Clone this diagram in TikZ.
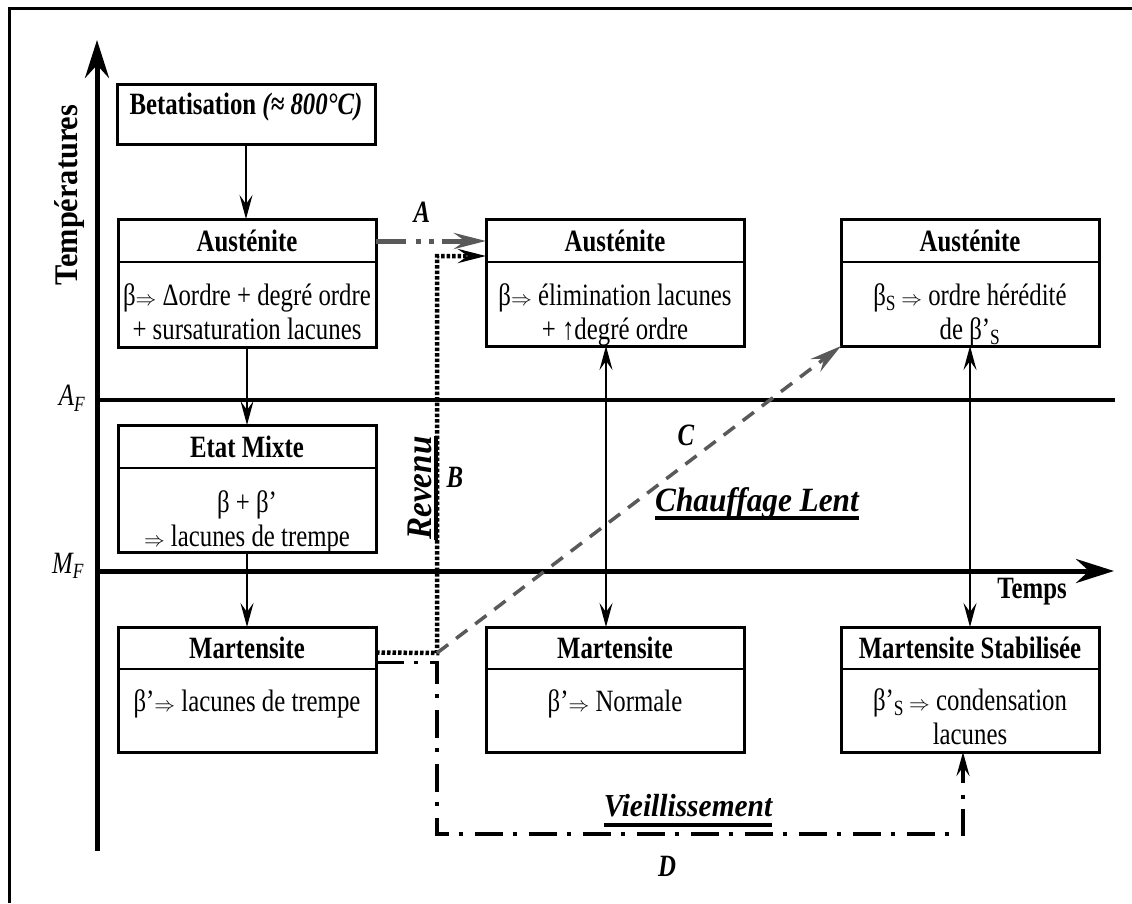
\documentclass[tikz,border=0pt]{standalone}
\usepackage{fontspec}
\setmainfont{Liberation Serif}[FakeStretch=0.8]
\newfontfamily\largefont{Liberation Serif}[FakeStretch=0.92]
\usetikzlibrary{arrows.meta}

\newcommand{\impl}{{\fontsize{22}{22}\selectfont$\Rightarrow$}}

\begin{document}
\begin{tikzpicture}[x=1pt,y=-1pt,
  every node/.style={font=\fontsize{31}{34}\selectfont},
  etat/.style={draw,line width=3pt,minimum width=258pt,inner sep=0pt,outer sep=0pt},
  titre/.style={font=\fontsize{31}{34}\selectfont\bfseries},
  corps/.style={align=center,anchor=north,inner sep=0pt},
  trait/.style={line width=1.2pt},
  fleche/.style={line width=1.5pt,-{Stealth[length=24pt,width=13pt,inset=9pt]}},
  double fleche/.style={line width=1.5pt,{Stealth[length=24pt,width=13pt,inset=9pt]}-{Stealth[length=24pt,width=13pt,inset=9pt]}},
  axe/.style={line width=5pt,-{Stealth[length=38pt,width=24pt,inset=13pt]}},
  palier/.style={line width=4pt},
  lettre/.style={font=\fontsize{31}{34}\selectfont\bfseries\itshape},
  legende/.style={font=\largefont\fontsize{34}{36}\selectfont\bfseries\itshape,inner xsep=0pt},
  souligne/.style={line width=4pt},
  chemin A/.style={line width=5pt,black!65,dash pattern=on 30pt off 10pt on 5pt off 8pt on 5pt off 8pt,
    -{Stealth[length=32pt,width=16pt,inset=11pt]}},
  chemin B/.style={line width=4.5pt,dash pattern=on 3.5pt off 2pt,-{Stealth[length=28pt,width=14pt,inset=10pt]}},
  chemin C/.style={line width=3.5pt,black!65,dash pattern=on 14pt off 10pt,-{Stealth[length=32pt,width=16pt,inset=11pt]}},
  chemin D/.style={line width=3.5pt,dash pattern=on 28pt off 10pt on 4pt off 12pt,-{Stealth[length=24pt,width=13pt,inset=9pt]}}]
  \useasboundingbox (0,0) rectangle (1132,903);
  %cadre
  \draw[line width=3pt] (9,903) -- (9,8) -- (1132,8);

  %axes
  \coordinate (O) at (97,851);
  \coordinate (Thaut) at (97,40);
  \coordinate (AFg) at (97,400);
  \coordinate (AFd) at (1115,400);
  \coordinate (MFg) at (97,571);
  \coordinate (MFd) at (1114,571);
  \draw[axe] (O) -- (Thaut);
  \draw[palier] (AFg) -- (AFd);
  \draw[axe] (MFg) -- (MFd);
  \node[font=\largefont\fontsize{33}{36}\selectfont\bfseries,rotate=90] (temp) at (70,195) {Températures};
  \node (af) at (72,398) {\itshape A\textsubscript{F}};
  \node (mf) at (68,566) {\itshape M\textsubscript{F}};
  \node[titre] (temps) at (1032,592) {Temps};

  %colonne gauche
  \node[etat,minimum height=60pt] (beta) at (246,114) {};
  \node[titre] (betat) at ([yshift=7pt]beta.center) {Betatisation {\itshape(≈ 800°C)}};
  \node[etat,minimum height=128pt] (aus1) at (247,283) {};
  \node[titre] (aus1t) at ([yshift=-22pt]aus1.north) {Austénite};
  \draw[trait] ([yshift=-43pt]aus1.north west) -- ([yshift=-43pt]aus1.north east);
  \node[corps] (aus1c) at ([yshift=-64pt]aus1.north) {β\impl\ Δordre + degré ordre\\ + sursaturation lacunes};
  \node[etat,minimum height=127pt] (mix) at (247,488.5) {};
  \node[titre] (mixt) at ([yshift=-22pt]mix.north) {Etat Mixte};
  \draw[trait] ([yshift=-43pt]mix.north west) -- ([yshift=-43pt]mix.north east);
  \node[corps] (mixc) at ([yshift=-65pt]mix.north) {β + β’\\\impl\ lacunes de trempe};
  \node[etat,minimum height=125pt] (mar1) at (247,689.5) {};
  \node[titre] (mar1t) at ([yshift=-21pt]mar1.north) {Martensite};
  \draw[trait] ([yshift=-42pt]mar1.north west) -- ([yshift=-42pt]mar1.north east);
  \node[corps] (mar1c) at ([yshift=-62pt]mar1.north) {β’\impl\ lacunes de trempe};
  \draw[fleche] (beta.south) -- (beta.south |- aus1.north);
  \draw[fleche] (aus1.south) -- (aus1.south |- mix.north);
  \draw[fleche] (mix.south) -- (mix.south |- mar1.north);

  %colonne milieu
  \node[etat,minimum height=127pt] (aus2) at (615,282.5) {};
  \node[titre] (aus2t) at ([yshift=-22pt]aus2.north) {Austénite};
  \draw[trait] ([yshift=-43pt]aus2.north west) -- ([yshift=-43pt]aus2.north east);
  \node[corps] (aus2c) at ([yshift=-64pt]aus2.north) {β\impl\ élimination lacunes\\+ ↑degré ordre};
  \node[etat,minimum height=125pt] (mar2) at (615,689.5) {};
  \node[titre] (mar2t) at ([yshift=-21pt]mar2.north) {Martensite};
  \draw[trait] ([yshift=-42pt]mar2.north west) -- ([yshift=-42pt]mar2.north east);
  \node[corps] (mar2c) at ([yshift=-62pt]mar2.north) {β’\impl\ Normale};
  \draw[double fleche] ([xshift=-9pt]aus2.south) -- ([xshift=-9pt]mar2.north);

  %colonne droite
  \node[etat,minimum height=127pt] (aus3) at (970,282.5) {};
  \node[titre] (aus3t) at ([yshift=-22pt]aus3.north) {Austénite};
  \draw[trait] ([yshift=-43pt]aus3.north west) -- ([yshift=-43pt]aus3.north east);
  \node[corps] (aus3c) at ([yshift=-64pt]aus3.north) {β\textsubscript{S}\,\impl\ ordre hérédité\\de β’\textsubscript{S}};
  \node[etat,minimum height=125pt] (mar3) at (970,689.5) {};
  \node[titre] (mar3t) at ([yshift=-21pt]mar3.north) {Martensite Stabilisée};
  \draw[trait] ([yshift=-42pt]mar3.north west) -- ([yshift=-42pt]mar3.north east);
  \node[corps] (mar3c) at ([yshift=-61pt]mar3.north) {β’\textsubscript{S}\,\impl\ condensation\\lacunes};
  \draw[double fleche] (aus3.south) -- (mar3.north);

  %chemins A B C D
  \coordinate (coude) at (437,653);
  \coordinate (bas) at (437,834);
  \draw[chemin A] (aus1t -| aus1.east) -- (aus1t -| aus2.west);
  \draw[chemin B] ([yshift=37pt]mar1.east) -- (coude) |- ([yshift=26.5pt]aus2.west);
  \draw[chemin C] (coude) -- (aus3.south west);
  \draw[chemin D] ([yshift=27pt]mar1.east) -| (bas) -| ([xshift=-7pt]mar3.south);
  \node[lettre] (la) at (422,212) {A};
  \node[lettre] (lb) at (455,477) {B};
  \node[lettre] (lc) at (686,435) {C};
  \node[lettre] (ld) at (667,866) {D};
  \node[legende,font=\largefont\fontsize{36}{36}\selectfont\bfseries\itshape,rotate=90,inner ysep=0pt,anchor=base] (rev) at (431,488) {Revenu};
  \draw[souligne] ([xshift=5pt]rev.base west) -- ([xshift=5pt]rev.base east);
  \node[legende] (chauf) at (757,503) {Chauffage Lent};
  \draw[souligne] ([yshift=-7pt]chauf.base west) -- ([yshift=-7pt]chauf.base east);
  \node[legende,font=\largefont\fontsize{32}{36}\selectfont\bfseries\itshape] (vieil) at (688,806) {Vieillissement};
  \draw[souligne] ([yshift=-8pt]vieil.base west) -- ([yshift=-8pt]vieil.base east);
\end{tikzpicture}
\end{document}
